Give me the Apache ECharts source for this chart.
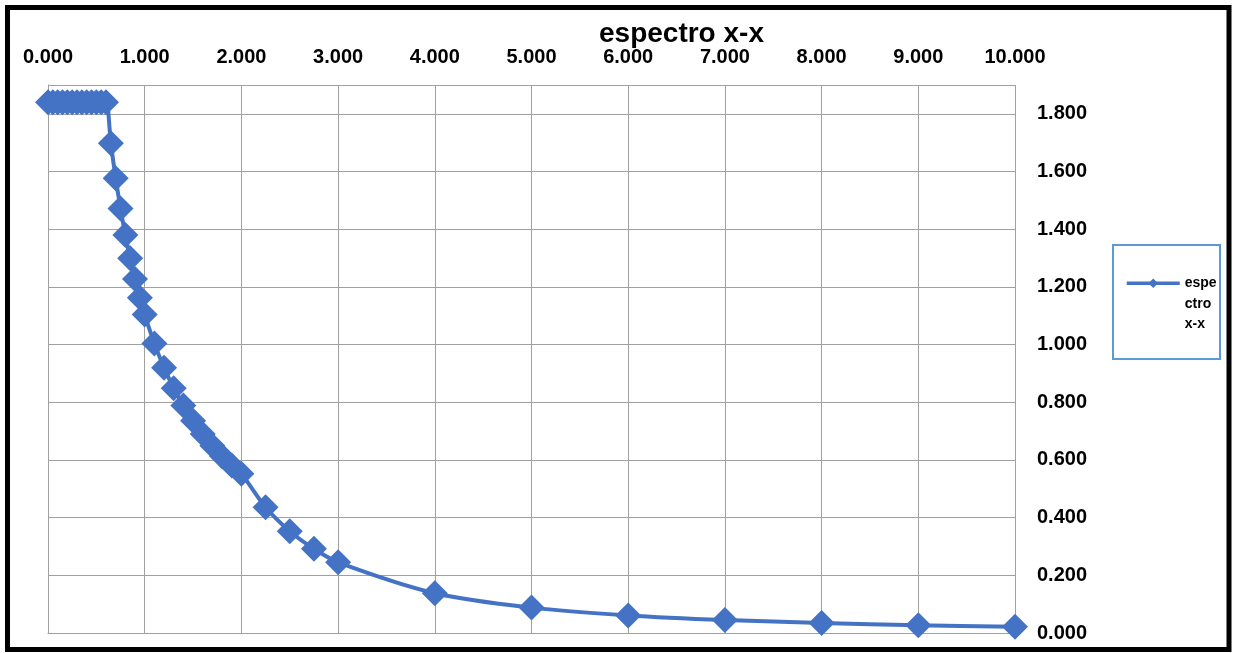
<!DOCTYPE html>
<html>
<head>
<meta charset="utf-8">
<script src="https://cdn.jsdelivr.net/npm/echarts@6/dist/echarts.min.js"></script>
<style>html,body{margin:0;padding:0;background:#fff;}#c{width:1235px;height:653px;}</style>
</head>
<body>
<div id="c"></div>
<script>
const titleText = 'espectro x-x';
const seriesName = 'espectro x-x';
const legendLabel = '\n\nespe\nctro\nx-x';
const periods = [0, 0.05, 0.1, 0.15, 0.2, 0.25, 0.3, 0.35, 0.4, 0.45, 0.5, 0.55, 0.6,
  0.65, 0.7, 0.75, 0.8, 0.85, 0.9, 0.95, 1.0, 1.1, 1.2, 1.3, 1.4, 1.5, 1.6, 1.7, 1.8, 1.9, 2.0,
  2.25, 2.5, 2.75, 3, 4, 5, 6, 7, 8, 9, 10];
const accel = [1.84, 1.84, 1.84, 1.84, 1.84, 1.84, 1.84, 1.84, 1.84, 1.84, 1.84, 1.84, 1.84,
  1.698, 1.577, 1.472, 1.380, 1.299, 1.227, 1.162, 1.104, 1.004, 0.920, 0.849, 0.789, 0.736, 0.690, 0.649, 0.613, 0.581, 0.552,
  0.436, 0.353, 0.292, 0.245, 0.138, 0.088, 0.061, 0.045, 0.035, 0.027, 0.022];

const FONT = "'Liberation Sans', Arial, sans-serif";
const chart = echarts.init(document.getElementById('c'), null, {renderer: 'canvas'});
const data = periods.map((t, i) => [t, accel[i]]);
chart.setOption({
  backgroundColor: '#fff',
  animation: false,
  title: {
    text: titleText, left: 594, top: 15,
    textStyle: {fontFamily: FONT, fontWeight: 'bold', fontSize: 28, color: '#000'}
  },
  grid: {left: 48, right: 220, top: 85, bottom: 20, containLabel: false},
  xAxis: {
    type: 'value', position: 'top', min: 0, max: 10, interval: 1,
    axisLine: {show: true, lineStyle: {color: '#a0a0a0', width: 1}},
    axisTick: {show: true, length: 7, lineStyle: {color: '#a0a0a0'}},
    splitLine: {show: true, lineStyle: {color: '#a0a0a0', width: 1}},
    axisLabel: {margin: 18, color: '#000', fontFamily: FONT, fontWeight: 'bold', fontSize: 20,
      formatter: v => v.toFixed(3)}
  },
  yAxis: {
    type: 'value', position: 'right', min: 0, max: 1.9, interval: 0.2,
    axisLine: {show: true, lineStyle: {color: '#a0a0a0', width: 1}},
    axisTick: {show: true, length: 7, lineStyle: {color: '#a0a0a0'}},
    splitLine: {show: true, lineStyle: {color: '#a0a0a0', width: 1}},
    axisLabel: {margin: 22, color: '#000', fontFamily: FONT, fontWeight: 'bold', fontSize: 20,
      formatter: v => (v > 1.85 ? '' : v.toFixed(3))}
  },
  legend: {
    show: true, left: 1125, top: 232, padding: 0,
    itemWidth: 53, itemHeight: 12, itemGap: 0,
    lineStyle: {width: 3.5},
    formatter: () => legendLabel,
    textStyle: {fontFamily: FONT, fontWeight: 'bold', fontSize: 14, color: '#000', lineHeight: 20.5}
  },
  graphic: [
    {type: 'rect', shape: {x: 7.5, y: 7.5, width: 1221.5, height: 642}, style: {fill: 'none', stroke: '#000', lineWidth: 5}, silent: true},
    {type: 'rect', shape: {x: 1113, y: 245, width: 107, height: 114}, style: {fill: 'none', stroke: '#5b9bd5', lineWidth: 2}, silent: true}
  ],
  series: [{
    name: seriesName, type: 'line', data: data,
    smooth: 0.3,
    symbol: 'diamond', symbolSize: 26,
    itemStyle: {color: '#4472c4'},
    lineStyle: {color: '#4472c4', width: 4},
    clip: false
  }]
});
</script>
</body>
</html>
